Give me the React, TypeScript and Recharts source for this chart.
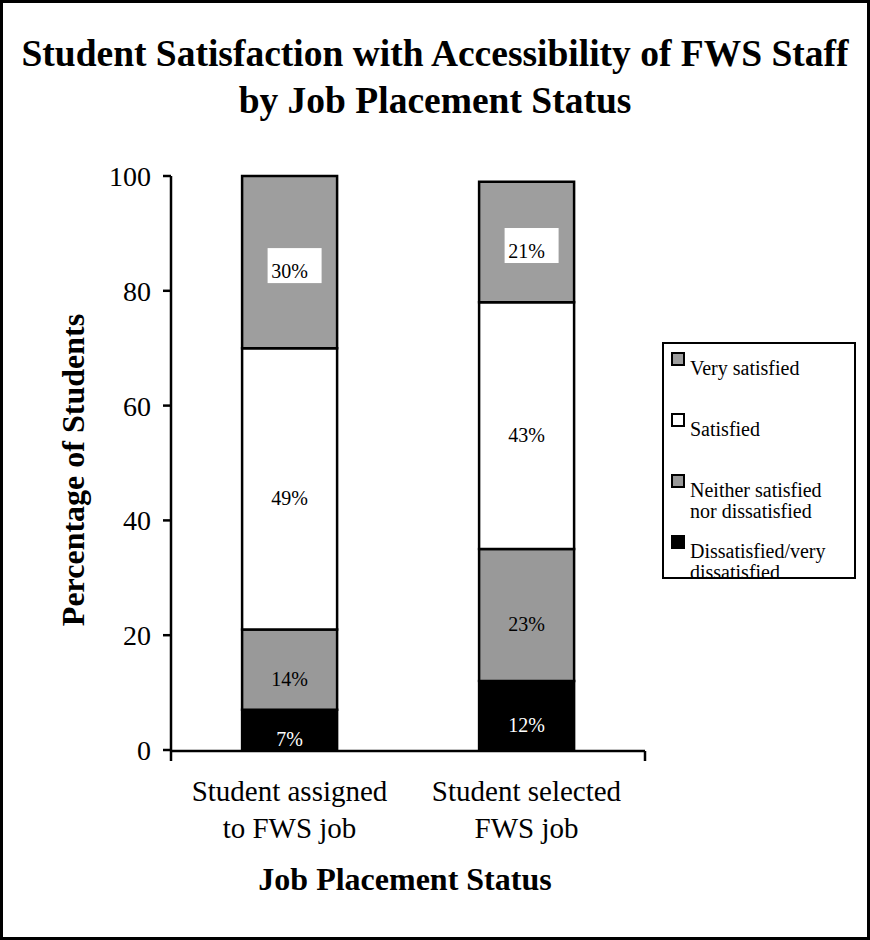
import { BarChart, Bar, XAxis, YAxis, Legend, LabelList, Label } from 'recharts'

const FONT = '"Liberation Serif", "Times New Roman", serif'

// categories & series values (percent of students)
const categories = ['Student assigned\nto FWS job', 'Student selected\nFWS job']
const dissatisfied = [7, 12]
const neither = [14, 23]
const satisfied = [49, 43]
const verySatisfied = [30, 21]
const yTicks = [0, 20, 40, 60, 80, 100]
const edgeTicks = [0, 1, 2]

const series = [
  { key: 'dissatisfied', name: 'Dissatisfied/very\ndissatisfied', fill: '#000000', text: '#ffffff', boxed: false },
  { key: 'neither', name: 'Neither satisfied\nnor dissatisfied', fill: '#999999', text: '#000000', boxed: false },
  { key: 'satisfied', name: 'Satisfied', fill: '#ffffff', text: '#000000', boxed: false },
  { key: 'verySatisfied', name: 'Very satisfied', fill: '#9e9e9e', text: '#000000', boxed: true },
]

const chartData = categories.map((category, i) => ({
  category,
  dissatisfied: dissatisfied[i],
  neither: neither[i],
  satisfied: satisfied[i],
  verySatisfied: verySatisfied[i],
}))

function CategoryTick({ x, y, payload }: any) {
  const lines = String(payload.value).split('\n')
  return (
    <text x={x} y={y + 51} textAnchor="middle" fontFamily={FONT} fontSize={29} fill="#000">
      {lines.map((l, i) => (
        <tspan key={i} x={x} dy={i === 0 ? 0 : 37}>{l}</tspan>
      ))}
    </text>
  )
}

function makeSegmentLabel(color: string, boxed: boolean) {
  return (props: any) => {
    const { x, y, width, height, value } = props
    const cx = x + width / 2
    const cy = y + height / 2 + 9
    return (
      <g>
        {boxed && <rect x={cx - 22} y={cy - 23} width={54} height={35} fill="#fff" />}
        <text x={cx} y={cy} dy="0.35em" textAnchor="middle" fontFamily={FONT} fontSize={20} fill={color}>
          {`${value}%`}
        </text>
      </g>
    )
  }
}

function YTitle(props: any) {
  const { x, y, height } = props.viewBox
  const cx = x - 7
  const cy = y + height / 2 + 7
  return (
    <text x={cx} y={cy} transform={`rotate(-90, ${cx}, ${cy})`} textAnchor="middle"
      fontFamily={FONT} fontWeight="bold" fontSize={32} fill="#000">
      Percentage of Students
    </text>
  )
}

function XTitle(props: any) {
  const { x, y, width } = props.viewBox
  return (
    <text x={x + width / 2 - 3} y={y + 140} textAnchor="middle"
      fontFamily={FONT} fontWeight="bold" fontSize={32} fill="#000">
      Job Placement Status
    </text>
  )
}

function LegendBox({ payload }: any) {
  const items = [...(payload ?? [])].reverse()
  return (
    <div style={{
      position: 'relative', width: 194, height: 237, boxSizing: 'border-box',
      border: '2px solid #000', background: '#fff', overflow: 'hidden',
      fontFamily: FONT, fontSize: 20, lineHeight: '21px', color: '#000',
    }}>
      {items.map((it: any, i: number) => (
        <div key={it.value} style={{ position: 'absolute', left: 7, top: 8 + i * 61 }}>
          <div style={{
            position: 'absolute', left: 0, top: 0, width: 14, height: 14,
            boxSizing: 'border-box', border: '2px solid #000', background: it.color,
          }} />
          <div style={{ position: 'absolute', left: 19, top: 6, width: 170, whiteSpace: 'pre-line' }}>
            {it.value}
          </div>
        </div>
      ))}
    </div>
  )
}

export default function App() {
  return (
    <div style={{ position: 'absolute', left: 0, top: 0, width: 870, height: 940, background: '#fff' }}>
      <BarChart
        width={870}
        height={940}
        data={chartData}
        margin={{ top: 176, right: 225, bottom: 188, left: 91 }}
        barCategoryGap="30%"
      >
        <XAxis
          xAxisId="edge"
          type="number"
          domain={[0, 2]}
          ticks={edgeTicks}
          allowDataOverflow
          height={1}
          tickFormatter={() => ''}
          tickSize={10}
          axisLine={{ stroke: '#000', strokeWidth: 2.5 }}
          tickLine={{ stroke: '#000', strokeWidth: 2.5 }}
        />
        <XAxis
          xAxisId="cat"
          dataKey="category"
          height={1}
          axisLine={false}
          tickLine={false}
          tickSize={0}
          tickMargin={0}
          interval={0}
          tick={<CategoryTick />}
        >
          <Label content={<XTitle />} />
        </XAxis>
        <YAxis
          domain={[0, 100]}
          ticks={yTicks}
          interval={0}
          width={80}
          tickSize={8}
          tickMargin={12}
          axisLine={{ stroke: '#000', strokeWidth: 2.5 }}
          tickLine={{ stroke: '#000', strokeWidth: 2.5 }}
          tick={{ fill: '#000', fontSize: 28, fontFamily: FONT }}
        >
          <Label content={<YTitle />} />
        </YAxis>
        <Legend
          layout="vertical"
          align="center"
          verticalAlign="middle"
          content={<LegendBox />}
          wrapperStyle={{ left: 662, top: 342, width: 194, height: 237 }}
        />
        {series.map(s => (
          <Bar
            key={s.key}
            xAxisId="cat"
            dataKey={s.key}
            name={s.name}
            stackId="a"
            fill={s.fill}
            stroke="#000"
            strokeWidth={2.5}
            isAnimationActive={false}
          >
            <LabelList dataKey={s.key} content={makeSegmentLabel(s.text, s.boxed)} />
          </Bar>
        ))}
      </BarChart>
      <div style={{
        position: 'absolute', left: 0, top: 30, width: 870, textAlign: 'center',
        fontFamily: FONT, fontWeight: 'bold', fontSize: 37.5, lineHeight: '47px', color: '#000',
      }}>
        Student Satisfaction with Accessibility of FWS Staff<br />by Job Placement Status
      </div>
      <div style={{
        position: 'absolute', left: 0, top: 0, width: 870, height: 940, boxSizing: 'border-box',
        border: '3px solid #000', pointerEvents: 'none',
      }} />
    </div>
  )
}
